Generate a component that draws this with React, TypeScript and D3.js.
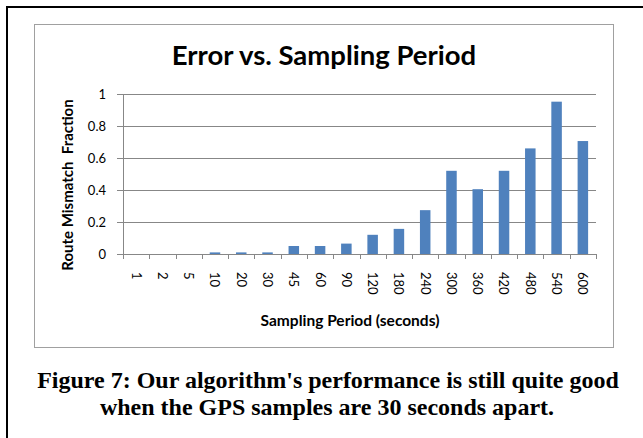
import * as d3 from "d3";

const periods = ["1", "2", "5", "10", "20", "30", "45", "60", "90", "120", "180", "240", "300", "360", "420", "480", "540", "600"];
const mismatch = [0, 0, 0, 0.01, 0.01, 0.01, 0.05, 0.05, 0.065, 0.12, 0.157, 0.274, 0.52, 0.405, 0.52, 0.66, 0.952, 0.706];
const yTicks = [0, 0.2, 0.4, 0.6, 0.8, 1];

const W = 643;
const H = 438;
const plot = { left: 123, right: 596, top: 94, bottom: 254 };
const sans = "Lato, 'Open Sans', sans-serif";
const serif = "'Liberation Serif', 'Times New Roman', serif";

export default function App() {
  const x = d3.scaleBand().domain(periods).range([plot.left, plot.right]).paddingInner(0.6).paddingOuter(0.3);
  const y = d3.scaleLinear().domain([0, 1]).range([plot.bottom, plot.top]);
  const tickXs = d3.range(periods.length + 1).map(i => plot.left + i * (plot.right - plot.left) / periods.length);

  return (
    <svg width={W} height={H} style={{ position: "absolute", left: 0, top: 0, background: "#fff" }}>
      <rect x={7} y={7} width={W} height={H} fill="none" stroke="#000" strokeWidth={2} />
      <rect x={34.5} y={24.5} width={579} height={323} fill="#fff" stroke="#a0a0a0" strokeWidth={1} />

      <text x={324} y={65} textAnchor="middle" fontFamily={sans} fontWeight="bold" fontSize={27.5} fill="#000">
        Error vs. Sampling Period
      </text>

      {yTicks.map(t => (
        <g key={t}>
          <line x1={plot.left - 6} x2={plot.right} y1={Math.round(y(t)) + 0.5} y2={Math.round(y(t)) + 0.5} stroke="#878787" strokeWidth={1} />
          <text x={106} y={y(t)} dy="0.35em" textAnchor="end" fontFamily={sans} fontSize={13} fill="#000">
            {d3.format("~g")(t)}
          </text>
        </g>
      ))}
      <line x1={plot.left + 0.5} x2={plot.left + 0.5} y1={plot.top} y2={plot.bottom} stroke="#878787" />

      {mismatch.map((v, i) => (
        <rect key={periods[i]} x={x(periods[i])} y={y(v)} width={x.bandwidth()} height={plot.bottom - y(v)} fill="#4F81BD" />
      ))}

      {tickXs.map((tx, i) => (
        <line key={i} x1={Math.round(tx) + 0.5} x2={Math.round(tx) + 0.5} y1={plot.bottom} y2={plot.bottom + 5} stroke="#878787" />
      ))}

      {periods.map(p => (
        <text key={p} transform={`translate(${(x(p) as number) + x.bandwidth() / 2},272) rotate(90)`} dy="0.35em" fontFamily={sans} fontSize={13} fill="#000">
          {p}
        </text>
      ))}

      <text x={350} y={326} textAnchor="middle" fontFamily={sans} fontWeight="bold" fontSize={15.5} fill="#000">
        Sampling Period (seconds)
      </text>
      <text transform="translate(73,185) rotate(-90)" textAnchor="middle" fontFamily={sans} fontWeight="bold" fontSize={15} fill="#000" style={{ whiteSpace: "pre" }}>
        Route Mismatch  Fraction
      </text>

      <text x={328} y={388} textAnchor="middle" fontFamily={serif} fontWeight="bold" fontSize={24} fill="#000">
        Figure 7: Our algorithm's performance is still quite good
      </text>
      <text x={327} y={415} textAnchor="middle" fontFamily={serif} fontWeight="bold" fontSize={24} fill="#000">
        when the GPS samples are 30 seconds apart.
      </text>
    </svg>
  );
}
